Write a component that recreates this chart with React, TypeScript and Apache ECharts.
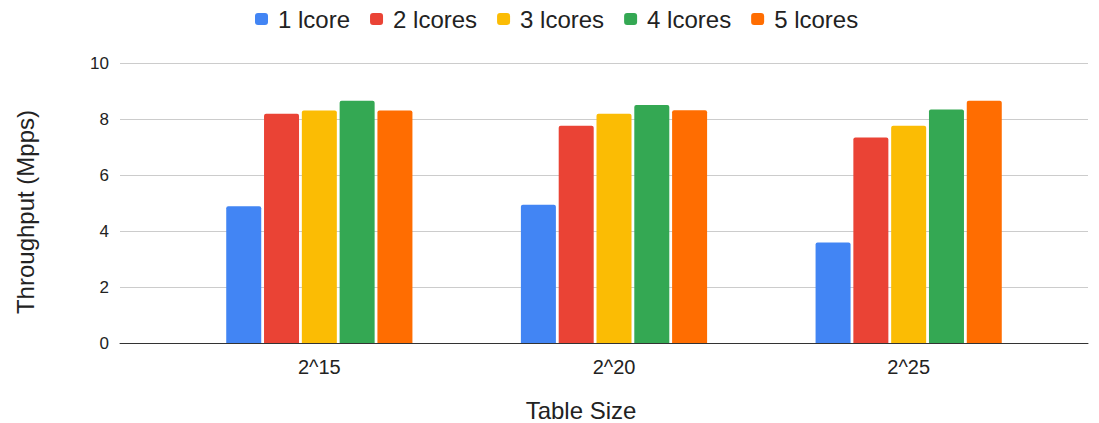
import React, { useEffect, useRef } from "react";
import * as echarts from "echarts";

const categories = ["2^15", "2^20", "2^25"];
const seriesNames = ["1 lcore", "2 lcores", "3 lcores", "4 lcores", "5 lcores"];
const lcore1 = [4.88, 4.94, 3.59];
const lcore2 = [8.19, 7.76, 7.34];
const lcore3 = [8.3, 8.19, 7.76];
const lcore4 = [8.65, 8.5, 8.34];
const lcore5 = [8.3, 8.31, 8.65];
const colors = ["#4285F4", "#EA4335", "#FBBC04", "#34A853", "#FF6D01"];
const yTicks = [0, 2, 4, 6, 8, 10];

const FONT = "'Liberation Sans', Arial, sans-serif";

export default function App() {
  const ref = useRef<HTMLDivElement>(null);
  useEffect(() => {
    document.body.style.margin = "0";
    if (!ref.current) return;
    const chart = echarts.init(ref.current, null, { renderer: "svg" });
    const values = [lcore1, lcore2, lcore3, lcore4, lcore5];
    chart.setOption({
      animation: false,
      textStyle: { fontFamily: FONT },
      color: colors,
      legend: {
        top: 2,
        left: 250,
        data: seriesNames,
        icon: "roundRect",
        itemWidth: 13,
        itemHeight: 12,
        itemGap: 20,
        textStyle: { fontSize: 24, color: "#222", fontFamily: FONT, padding: [0, 0, 0, 5] },
      },
      grid: [
        { left: 120, right: 11, top: 63, bottom: 80 },
        { left: 172, right: 43, top: 63, bottom: 80 },
      ],
      xAxis: [
        {
          type: "category",
          gridIndex: 0,
          data: categories,
          axisLabel: { show: false },
          axisTick: { show: false },
          axisLine: { lineStyle: { color: "#333", width: 1 } },
          z: 5,
        },
        {
          type: "category",
          gridIndex: 1,
          data: categories,
          axisLine: { show: false },
          axisTick: { show: false },
          axisLabel: { fontSize: 20, color: "#222", margin: 14, fontFamily: FONT },
        },
      ],
      yAxis: [
        {
          type: "value",
          gridIndex: 0,
          min: yTicks[0],
          max: yTicks[yTicks.length - 1],
          interval: 2,
          axisLabel: { fontSize: 17, color: "#222", margin: 11, fontFamily: FONT },
          splitLine: { lineStyle: { color: "#cccccc", width: 1 } },
          axisLine: { show: false },
          axisTick: { show: false },
        },
        {
          type: "value",
          gridIndex: 1,
          min: yTicks[0],
          max: yTicks[yTicks.length - 1],
          interval: 2,
          axisLabel: { show: false },
          splitLine: { show: false },
          axisLine: { show: false },
          axisTick: { show: false },
        },
      ],
      graphic: [
        {
          type: "text",
          x: 581,
          y: 410,
          style: {
            text: "Table Size",
            fontSize: 24,
            fill: "#222",
            fontFamily: FONT,
            align: "center",
            verticalAlign: "middle",
          },
        },
        {
          type: "text",
          x: 25,
          y: 212,
          rotation: Math.PI / 2,
          style: {
            text: "Throughput (Mpps)",
            fontSize: 24,
            fill: "#222",
            fontFamily: FONT,
            align: "center",
            verticalAlign: "middle",
          },
        },
      ],
      series: seriesNames.map((name, i) => ({
        name,
        type: "bar",
        xAxisIndex: 1,
        yAxisIndex: 1,
        data: values[i],
        barWidth: 35,
        barGap: "8%",
        itemStyle: { color: colors[i], borderRadius: [2, 2, 0, 0] },
      })),
    });
    return () => chart.dispose();
  }, []);
  return <div ref={ref} style={{ width: 1099, height: 423 }} />;
}
